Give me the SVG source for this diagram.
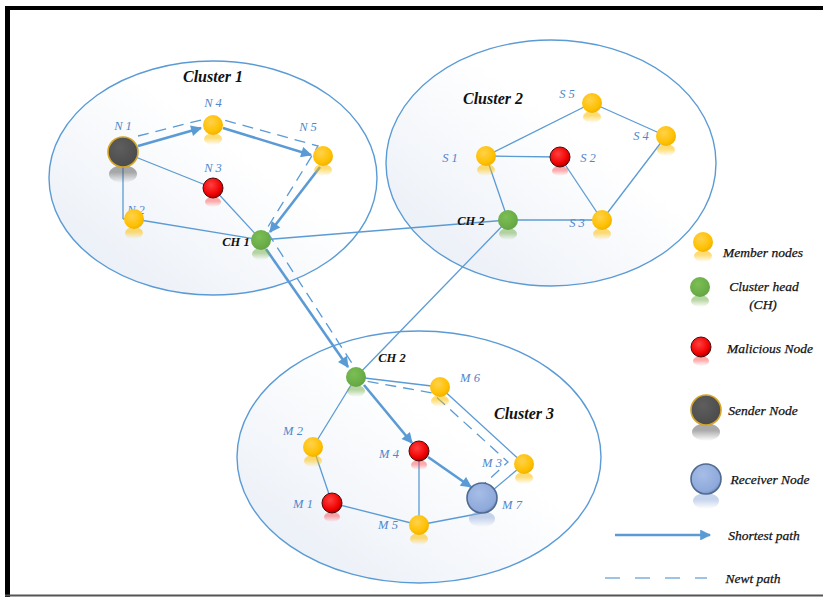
<svg xmlns="http://www.w3.org/2000/svg" width="823" height="597" viewBox="0 0 823 597">
<style>
.cl{fill:url(#clFill);stroke:#5B9BD5;stroke-width:1.4}
.ln{fill:none;stroke:#5B9BD5;stroke-width:1.3}
.sp{fill:none;stroke:#5B9BD5;stroke-width:2.6;marker-end:url(#ah)}
.np{fill:none;stroke:#5B9BD5;stroke-width:1.3;stroke-dasharray:11 7}
.nl{font-family:"Liberation Serif",serif;font-style:italic;font-size:12.5px;fill:#4F86CC;text-anchor:middle}
.ct{font-family:"Liberation Serif",serif;font-style:italic;font-weight:bold;font-size:16px;fill:#111;text-anchor:middle}
.ch{font-family:"Liberation Serif",serif;font-style:italic;font-weight:bold;font-size:12.5px;fill:#111;text-anchor:middle}
.lg{font-family:"Liberation Serif",serif;font-style:italic;font-size:13.5px;fill:#111;stroke:#111;stroke-width:0.25;text-anchor:middle}
.gold{fill:url(#gGold)}
.green{fill:url(#gGreen)}
.red{fill:url(#gRed);stroke:#4a0a0a;stroke-width:1}
.snd{fill:url(#gSnd);stroke:#D4A52A;stroke-width:1.6}
.rcv{fill:url(#gRcv);stroke:#4F6A8F;stroke-width:1.6}
.rGold{fill:url(#rfGold)}
.rGreen{fill:url(#rfGreen)}
.rRed{fill:url(#rfRed)}
.rGray{fill:url(#rfGray)}
.rBlue{fill:url(#rfBlue)}
</style>
<defs>
<linearGradient id="clFill" x1="0" y1="1" x2="1" y2="0">
<stop offset="0" stop-color="#E6ECF5"/><stop offset="0.6" stop-color="#FFFFFF"/><stop offset="1" stop-color="#FFFFFF"/>
</linearGradient>
<radialGradient id="gGold" cx="0.4" cy="0.35" r="0.7"><stop offset="0" stop-color="#FFD24D"/><stop offset="0.7" stop-color="#FFC000"/><stop offset="1" stop-color="#EBAE00"/></radialGradient>
<radialGradient id="gGreen" cx="0.4" cy="0.35" r="0.7"><stop offset="0" stop-color="#7CBF54"/><stop offset="1" stop-color="#63A443"/></radialGradient>
<radialGradient id="gRed" cx="0.4" cy="0.35" r="0.7"><stop offset="0" stop-color="#FF4040"/><stop offset="0.7" stop-color="#F00000"/><stop offset="1" stop-color="#9A0000"/></radialGradient>
<radialGradient id="gSnd" cx="0.4" cy="0.35" r="0.7"><stop offset="0" stop-color="#5E5E5E"/><stop offset="1" stop-color="#4A4A4A"/></radialGradient>
<radialGradient id="gRcv" cx="0.4" cy="0.35" r="0.7"><stop offset="0" stop-color="#A6BDE6"/><stop offset="0.8" stop-color="#8EA9DB"/><stop offset="1" stop-color="#6F8AB8"/></radialGradient>
<linearGradient id="rfGold" x1="0" y1="0" x2="0" y2="1"><stop offset="0.4" stop-color="#FFC000" stop-opacity="0.55"/><stop offset="1" stop-color="#FFC000" stop-opacity="0"/></linearGradient>
<linearGradient id="rfGreen" x1="0" y1="0" x2="0" y2="1"><stop offset="0.4" stop-color="#70AD47" stop-opacity="0.5"/><stop offset="1" stop-color="#70AD47" stop-opacity="0"/></linearGradient>
<linearGradient id="rfRed" x1="0" y1="0" x2="0" y2="1"><stop offset="0.4" stop-color="#FF4040" stop-opacity="0.45"/><stop offset="1" stop-color="#FF4040" stop-opacity="0"/></linearGradient>
<linearGradient id="rfGray" x1="0" y1="0" x2="0" y2="1"><stop offset="0.4" stop-color="#555" stop-opacity="0.5"/><stop offset="1" stop-color="#555" stop-opacity="0"/></linearGradient>
<linearGradient id="rfBlue" x1="0" y1="0" x2="0" y2="1"><stop offset="0.4" stop-color="#8EA9DB" stop-opacity="0.5"/><stop offset="1" stop-color="#8EA9DB" stop-opacity="0"/></linearGradient>
<marker id="ah" viewBox="0 0 10 10" refX="9" refY="5" markerWidth="5" markerHeight="4.2" orient="auto" markerUnits="strokeWidth">
<path d="M0,0 L10,5 L0,10 Z" fill="#5B9BD5"/>
</marker>
</defs>

<rect x="0" y="0" width="823" height="597" fill="#FFFFFF"/>

<g id="frame">
<line x1="7.5" y1="6" x2="7.5" y2="597" stroke="#000" stroke-width="5"/>
<line x1="5" y1="8" x2="823" y2="8" stroke="#000" stroke-width="4"/>
<line x1="5" y1="595.5" x2="823" y2="595.5" stroke="#555" stroke-width="2"/>
</g>

<g id="clusters">
<g id="cluster1"><ellipse class="cl" cx="213" cy="178" rx="164" ry="117"/><text class="ct" x="213" y="82">Cluster 1</text></g>
<g id="cluster2"><ellipse class="cl" cx="551" cy="163" rx="165" ry="123"/><text class="ct" x="493" y="104">Cluster 2</text></g>
<g id="cluster3"><ellipse class="cl" cx="419" cy="457" rx="182" ry="126"/><text class="ct" x="524" y="419">Cluster 3</text></g>
</g>

<g id="connectors">
<line class="ln" x1="123" y1="152" x2="213" y2="188"/>
<line class="ln" x1="213" y1="188" x2="261" y2="240"/>
<line class="ln" x1="123" y1="152" x2="123" y2="219"/>
<line class="ln" x1="134" y1="219" x2="261" y2="240"/>
<line class="ln" x1="123" y1="219" x2="134" y2="219"/>
<line class="ln" x1="261" y1="240" x2="508" y2="220"/>
<line class="ln" x1="508" y1="220" x2="356" y2="377"/>
<line class="ln" x1="486" y1="156" x2="592" y2="103"/>
<line class="ln" x1="592" y1="103" x2="666" y2="136"/>
<line class="ln" x1="486" y1="156" x2="560" y2="157"/>
<line class="ln" x1="486" y1="156" x2="508" y2="220"/>
<line class="ln" x1="508" y1="220" x2="602" y2="220"/>
<line class="ln" x1="560" y1="157" x2="602" y2="220"/>
<line class="ln" x1="666" y1="136" x2="602" y2="220"/>
<line class="ln" x1="356" y1="377" x2="440" y2="387"/>
<line class="ln" x1="440" y1="387" x2="524" y2="464"/>
<line class="ln" x1="524" y1="464" x2="493" y2="490"/>
<line class="ln" x1="356" y1="377" x2="313" y2="447"/>
<line class="ln" x1="313" y1="447" x2="332" y2="503"/>
<line class="ln" x1="332" y1="503" x2="419" y2="525"/>
<line class="ln" x1="419" y1="451" x2="419" y2="525"/>
<line class="ln" x1="419" y1="525" x2="482" y2="513"/>
<polyline class="np" points="138,136 213,117 318,146 266,230 275,244 355,368 366,381 432,393 508,462 483,485"/>
<line class="sp" x1="138" y1="146" x2="201" y2="128"/>
<line class="sp" x1="223" y1="128" x2="311" y2="155"/>
<line class="sp" x1="320" y1="167" x2="270" y2="232"/>
<line class="sp" x1="266" y1="249" x2="348" y2="367"/>
<line class="sp" x1="364" y1="385" x2="412" y2="443"/>
<line class="sp" x1="428" y1="457" x2="471" y2="487"/>
</g>

<g id="N1"><ellipse class="rGray" cx="123" cy="174" rx="14" ry="9"/><circle class="snd" cx="123" cy="152" r="15"/><text class="nl" x="123" y="130">N 1</text></g>
<g id="N4"><ellipse class="rGold" cx="213" cy="139" rx="9" ry="6"/><circle class="gold" cx="213" cy="125" r="10"/><text class="nl" x="213" y="107">N 4</text></g>
<g id="N5"><ellipse class="rGold" cx="323" cy="170" rx="9" ry="6"/><circle class="gold" cx="323" cy="156" r="10"/><text class="nl" x="308" y="131">N 5</text></g>
<g id="N3"><ellipse class="rRed" cx="213" cy="202" rx="8" ry="5"/><text class="nl" x="213" y="172">N 3</text><circle class="red" cx="213" cy="188" r="10"/></g>
<g id="N2"><ellipse class="rGold" cx="134" cy="233" rx="9" ry="6"/><text class="nl" x="136" y="214">N 2</text><circle class="gold" cx="134" cy="219" r="10"/></g>
<g id="CH1"><ellipse class="rGreen" cx="261" cy="254" rx="9" ry="6"/><text class="ch" x="236" y="246">CH 1</text><circle class="green" cx="261" cy="240" r="10"/></g>

<g id="S5"><ellipse class="rGold" cx="592" cy="117" rx="9" ry="6"/><circle class="gold" cx="592" cy="103" r="10"/><text class="nl" x="567" y="98">S 5</text></g>
<g id="S4"><ellipse class="rGold" cx="666" cy="150" rx="9" ry="6"/><circle class="gold" cx="666" cy="136" r="10"/><text class="nl" x="641" y="140">S 4</text></g>
<g id="S1"><ellipse class="rGold" cx="486" cy="170" rx="9" ry="6"/><circle class="gold" cx="486" cy="156" r="10"/><text class="nl" x="450" y="162">S 1</text></g>
<g id="S2"><ellipse class="rRed" cx="560" cy="171" rx="8" ry="5"/><circle class="red" cx="560" cy="157" r="10"/><text class="nl" x="588" y="162">S 2</text></g>
<g id="S3"><ellipse class="rGold" cx="602" cy="234" rx="9" ry="6"/><circle class="gold" cx="602" cy="220" r="10"/><text class="nl" x="577" y="227">S 3</text></g>
<g id="CH2a"><ellipse class="rGreen" cx="508" cy="234" rx="9" ry="6"/><text class="ch" x="471" y="225">CH 2</text><circle class="green" cx="508" cy="220" r="10"/></g>

<g id="CH2b"><ellipse class="rGreen" cx="356" cy="391" rx="9" ry="6"/><circle class="green" cx="356" cy="377" r="10"/><text class="ch" x="392" y="362">CH 2</text></g>
<g id="M6"><ellipse class="rGold" cx="440" cy="401" rx="9" ry="6"/><circle class="gold" cx="440" cy="387" r="10"/><text class="nl" x="470" y="382">M 6</text></g>
<g id="M2"><ellipse class="rGold" cx="313" cy="461" rx="9" ry="6"/><circle class="gold" cx="313" cy="447" r="10"/><text class="nl" x="293" y="435">M 2</text></g>
<g id="M4"><ellipse class="rRed" cx="419" cy="465" rx="8" ry="5"/><circle class="red" cx="419" cy="451" r="10"/><text class="nl" x="389" y="458">M 4</text></g>
<g id="M3"><ellipse class="rGold" cx="524" cy="478" rx="9" ry="6"/><circle class="gold" cx="524" cy="464" r="10"/><text class="nl" x="492" y="467">M 3</text></g>
<g id="M1"><ellipse class="rRed" cx="332" cy="517" rx="8" ry="5"/><circle class="red" cx="332" cy="503" r="10"/><text class="nl" x="303" y="508">M 1</text></g>
<g id="M5"><ellipse class="rGold" cx="419" cy="539" rx="9" ry="6"/><circle class="gold" cx="419" cy="525" r="10"/><text class="nl" x="388" y="529">M 5</text></g>
<g id="M7"><ellipse class="rBlue" cx="482" cy="519" rx="13" ry="8"/><circle class="rcv" cx="482" cy="498" r="15"/><text class="nl" x="512" y="509">M 7</text></g>

<g id="legend">
<g id="lg-member"><ellipse class="rGold" cx="703" cy="256" rx="9" ry="6"/><circle class="gold" cx="703" cy="242" r="10"/><text class="lg" x="763" y="257">Member nodes</text></g>
<g id="lg-ch"><ellipse class="rGreen" cx="700" cy="301" rx="9" ry="6"/><circle class="green" cx="700" cy="287" r="10"/><text class="lg" x="764" y="291">Cluster head</text><text class="lg" x="763" y="309">(CH)</text></g>
<g id="lg-mal"><ellipse class="rRed" cx="701" cy="361" rx="8" ry="5"/><circle class="red" cx="701" cy="347" r="10"/><text class="lg" x="770" y="353">Malicious Node</text></g>
<g id="lg-snd"><ellipse class="rGray" cx="706" cy="432" rx="14" ry="9"/><circle class="snd" cx="706" cy="410" r="15"/><text class="lg" x="763" y="415">Sender Node</text></g>
<g id="lg-rcv"><ellipse class="rBlue" cx="706" cy="501" rx="13" ry="8"/><circle class="rcv" cx="706" cy="479" r="15"/><text class="lg" x="770" y="484">Receiver Node</text></g>
<g id="lg-sp"><line class="sp" x1="615" y1="535" x2="710" y2="535"/><text class="lg" x="764" y="540">Shortest path</text></g>
<g id="lg-np"><line x1="605" y1="578" x2="707" y2="578" stroke="#9DC3E6" stroke-width="2" stroke-dasharray="15 15"/><text class="lg" x="753" y="583">Newt path</text></g>
</g>
</svg>
